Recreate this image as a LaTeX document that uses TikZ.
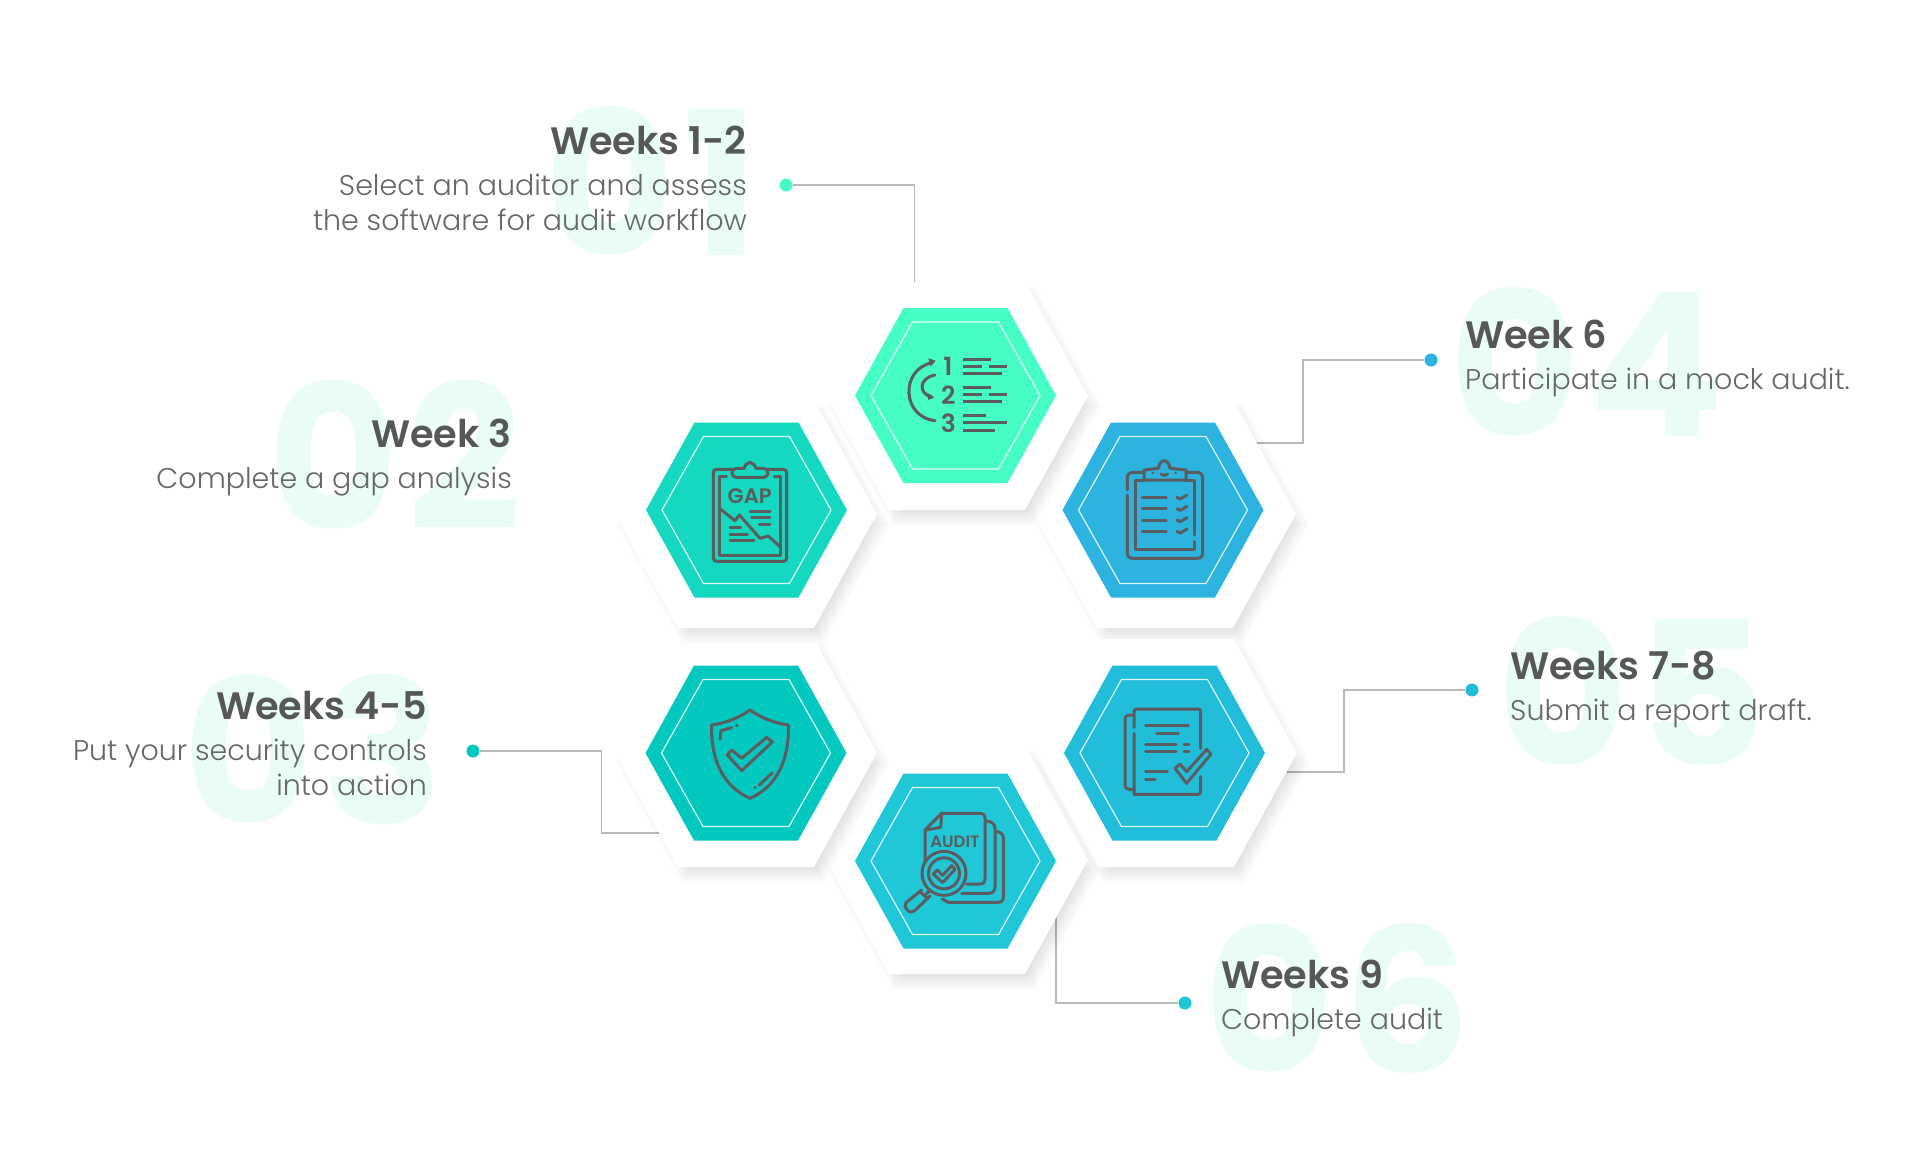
\documentclass[tikz,border=0pt]{standalone}
\usepackage{fontspec}
\setmainfont{Poppins}[BoldFont={Poppins SemiBold}]
\newfontfamily\poplight{Poppins Light}
\newfontfamily\ghostfont{Poppins Bold}[LetterSpace=4.5]
\definecolor{ink}{HTML}{565858}
\definecolor{bodyc}{HTML}{666868}
\definecolor{ghost}{HTML}{EAFCF7}
\definecolor{wire}{HTML}{B8B8B8}
\definecolor{icon}{HTML}{5C5C5E}
\definecolor{cA}{HTML}{46FDC6}
\definecolor{cB}{HTML}{14D8C0}
\definecolor{cC}{HTML}{2CB3DF}
\definecolor{cD}{HTML}{03C8BF}
\definecolor{cE}{HTML}{22BDDB}
\definecolor{cF}{HTML}{1FC7D7}
\newcommand\hexat[5]{({(#1)-(#3)},{#2}) -- ({(#1)-(#5)},{(#2)-(#4)}) -- ({(#1)+(#5)},{(#2)-(#4)}) -- ({(#1)+(#3)},{#2}) -- ({(#1)+(#5)},{(#2)+(#4)}) -- ({(#1)-(#5)},{(#2)+(#4)}) -- cycle}
% white plate with soft shadow: cx cy
\newcommand\plate[2]{%
  \foreach \k in {0,...,13}{
    \fill[black,opacity=0.0105] \hexat{#1+7}{#2+10}{131+6-2*\k}{114+6-1.75*\k}{68+3-\k};
  }
  \fill[white] \hexat{#1}{#2}{131}{114}{68};
}
% coloured hexagon and inner outline: cx cy colour
\newcommand\cell[3]{%
  \fill[#3] \hexat{#1}{#2}{100.5}{87.5}{52};
  \draw[white!85!#3,line width=1.2pt] \hexat{#1}{#2}{84.5}{73.5}{43};
}
\tikzset{
  x=1pt,y=-1pt,
  title/.style={inner sep=0,text=ink,font=\fontsize{38.2}{38.2}\selectfont\bfseries},
  body/.style={inner sep=0,text=bodyc,font=\fontsize{28.5}{28.5}\selectfont\poplight},
  ghostnum/.style={inner sep=0,text=ghost,font=\fontsize{200}{200}\selectfont\ghostfont},
  wireline/.style={draw=wire,line width=1.2pt},
  dotmark/.style={circle,inner sep=0,minimum size=13pt},
  ic/.style={draw=icon,line width=3pt,line cap=round,line join=round},
  iconscale/.style={x=0.33333pt,y=-0.33333pt},
  icontext/.style={inner sep=0,text=icon,font=\fontsize{#1}{#1}\selectfont\bfseries},
}
\begin{document}
\begin{tikzpicture}
\useasboundingbox (0,0) rectangle (1909,1159);
\fill[white] (0,0) rectangle (1909,1159);

% ghost numbers
\node[ghostnum,anchor=base east] (n1) at (759,255) {01};
\node[ghostnum,anchor=base east] (n2) at (522,529) {02};
\node[ghostnum,anchor=base east] (n3) at (444,823) {03};
\node[ghostnum,anchor=base east] (n4) at (1724,436) {04};
\node[ghostnum,anchor=base east] (n5) at (1767,765) {05};
\node[ghostnum,anchor=base east] (n6) at (1471,1072) {06};

% connectors
\node[dotmark,fill=cA] (d1) at (786,185) {};
\node[dotmark,fill=cC] (d3) at (1431,360) {};
\node[dotmark,fill=cE] (d5) at (1472,690) {};
\node[dotmark,fill=cF] (d6) at (1185,1003) {};
\node[dotmark,fill=cD] (d4) at (473,751) {};
\coordinate (a1) at (914.5,185); \coordinate (b1) at (914.5,282);
\coordinate (a3) at (1303,360); \coordinate (b3) at (1303,443); \coordinate (e3) at (1250,443);
\coordinate (a5) at (1344,690); \coordinate (b5) at (1344,772); \coordinate (e5) at (1280,772);
\coordinate (a6) at (1056,1003); \coordinate (b6) at (1056,905);
\coordinate (a4) at (601.5,751); \coordinate (b4) at (601.5,833); \coordinate (e4) at (665,833);
\draw[wireline] (d1) -- (a1) -- (b1);
\draw[wireline] (d3) -- (a3) -- (b3) -- (e3);
\draw[wireline] (d5) -- (a5) -- (b5) -- (e5);
\draw[wireline] (d6) -- (a6) -- (b6);
\draw[wireline] (d4) -- (a4) -- (b4) -- (e4);

% plates
\plate{1165}{514}
\plate{1166}{753}
\plate{957}{860}
\plate{746}{753}
\plate{746}{514}
\plate{957}{396}

% cells
\cell{955.5}{395.5}{cA}
\cell{746.5}{510}{cB}
\cell{1163}{510}{cC}
\cell{746}{753}{cD}
\cell{1164.5}{753}{cE}
\cell{955.5}{861}{cF}

% icon 1
\begin{scope}[shift={(820,270)},iconscale]
\draw[ic] (335,278) .. controls (240,300) and (245,440) .. (345,452);
\draw[ic] (345,315) .. controls (295,325) and (295,370) .. (335,382);
\fill[icon] (325,265) -- (347,272) -- (332,290) -- cycle;
\fill[icon] (322,368) -- (343,382) -- (325,390) -- cycle;
\node[icontext=25] (i1a) at (384,290) {1};
\node[icontext=25] (i1b) at (385,376) {2};
\node[icontext=25] (i1c) at (385,460) {3};
\foreach \p/\q/\r in {430/513/268,430/485/290,507/560/290,430/545/311,430/513/352,430/485/373,507/560/373,430/545/395,430/497/437,430/560/458,430/525/480}
  \draw[ic,line cap=butt] (\p,\r) -- (\q,\r);
\end{scope}

% icon 2 GAP
\begin{scope}[shift={(620,400)},iconscale]
\draw[ic] (338,208) -- (290,208) .. controls (282,208) and (280,212) .. (280,220) -- (280,473) .. controls (280,481) and (284,484) .. (292,484) -- (490,484) .. controls (498,484) and (500,480) .. (500,472) -- (500,220) .. controls (500,212) and (497,208) .. (490,208) -- (442,208);
\draw[ic] (348,205) -- (372,205) .. controls (376,195) and (380,188) .. (390,187) .. controls (400,188) and (404,195) .. (408,205) -- (432,205) .. controls (448,207) and (448,230) .. (432,232) -- (348,232) .. controls (332,230) and (332,207) .. (348,205) -- cycle;
\draw[ic] (320,228) -- (298,228) -- (298,465) -- (481,465) -- (481,432);
\draw[ic] (462,228) -- (482,228) -- (482,428);
\draw[ic] (298,325) -- (345,362) -- (358,345) -- (420,415) -- (445,408) -- (480,440);
\node[icontext=21] (i2a) at (389,288) {GAP};
\foreach \p/\q/\r in {390/450/333,395/450/352,418/450/372,330/362/382,330/382/402,330/402/421}
  \draw[ic] (\p,\r) -- (\q,\r);
\end{scope}

% icon 3 checklist
\begin{scope}[shift={(1030,400)},iconscale]
\draw[ic] (342,217) -- (310,217) .. controls (298,217) and (292,223) .. (292,235) -- (292,270);
\draw[ic] (292,285) -- (292,458) .. controls (292,470) and (298,475) .. (310,475) -- (500,475) .. controls (512,475) and (518,470) .. (518,458) -- (518,235) .. controls (518,223) and (512,217) .. (500,217) -- (468,217);
\draw[ic] (342,240) -- (317,240) -- (317,447) -- (493,447) -- (493,425);
\draw[ic] (468,240) -- (493,240) -- (493,405);
\draw[ic] (342,240) -- (342,210) -- (385,205) .. controls (388,190) and (395,182) .. (402,182) .. controls (410,182) and (418,190) .. (420,205) -- (468,210) -- (468,240) -- cycle;
\draw[ic,line width=2pt] (367,220) -- (370,220) (435,220) -- (438,220);
\draw[ic] (393,222) .. controls (398,228) and (408,228) .. (413,222);
\foreach \r in {292,326,360,394}{
  \draw[ic] (337,\r) -- (408,\r);
  \draw[ic] (441,\r) -- (451,\r+5) -- (471,\r-7);
}
\end{scope}

% icon 4 shield
\begin{scope}[shift={(620,640)},iconscale]
\draw[ic] (390,210) .. controls (350,238) and (310,250) .. (275,255) .. controls (272,360) and (310,440) .. (390,475) .. controls (470,440) and (508,360) .. (505,255) .. controls (470,250) and (430,238) .. (390,210) -- cycle;
\draw[ic] (300,298) -- (303,272) -- (335,263);
\draw[ic] (350,257) -- (351,257);
\draw[ic] (405,443) -- (406,442);
\draw[ic] (417,436) -- (457,398);
\draw[ic] (322,345) -- (335,330) -- (365,355) -- (440,292) -- (457,306) -- (365,392) -- cycle;
\end{scope}

% icon 5 report
\begin{scope}[shift={(1030,640)},iconscale]
\draw[ic] (512,325) -- (512,215) .. controls (512,209) and (510,207) .. (504,207) -- (322,207) .. controls (315,207) and (312,210) .. (312,216) -- (312,262);
\draw[ic] (312,280) -- (312,463) -- (504,463) .. controls (510,463) and (512,461) .. (512,455) -- (512,410);
\draw[ic] (312,225) -- (298,225) .. controls (289,225) and (285,230) .. (285,240) -- (285,433) .. controls (285,443) and (289,448) .. (298,448) -- (312,448);
\foreach \p/\q/\r in {347/475/257,380/445/279,347/438/312,462/477/312,347/438/335,462/477/335,347/412/395,347/375/418}
  \draw[ic] (\p,\r) -- (\q,\r);
\draw[ic] (435,385) -- (450,372) -- (470,395) -- (530,328) -- (543,342) -- (470,430) -- cycle;
\end{scope}

% icon 6 audit
\begin{scope}[shift={(820,750)},iconscale]
\draw[ic] (315,335) -- (315,240) -- (365,190) -- (482,190) .. controls (491,190) and (495,194) .. (495,203) -- (495,385) .. controls (495,396) and (490,402) .. (480,402) -- (440,402);
\draw[ic] (365,190) -- (362,232) -- (318,240);
\draw[ic] (497,213) .. controls (515,213) and (525,222) .. (525,235) -- (525,410) .. controls (525,423) and (518,430) .. (505,430) -- (425,430);
\draw[ic] (527,245) .. controls (543,245) and (550,252) .. (550,265) -- (550,440) .. controls (550,451) and (545,457) .. (534,457) -- (385,457) -- (367,447);
\node[icontext=16.5] (i6a) at (405,276) {AUDIT};
\draw[ic,fill=cF] (372,370) circle[radius=22pt];
\draw[ic] (372,370) circle[radius=15.5pt];
\draw[ic] (340,372) -- (352,360) -- (368,376) -- (395,347) -- (405,358) -- (368,398) -- cycle;
\draw[ic] (330,420) -- (318,433);
\draw[ic] (305,420) -- (258,458) .. controls (252,465) and (255,475) .. (262,480) .. controls (268,488) and (278,488) .. (284,482) -- (330,438);
\draw[ic] (300,425) -- (322,445);
\end{scope}

% texts
\node[title,anchor=base east] (t1) at (747,154) {Weeks 1-2};
\node[body,anchor=base east] (s1a) at (747,195) {Select an auditor and assess};
\node[body,anchor=base east] (s1b) at (747,230) {the software for audit workflow};
\node[title,anchor=base east] (t2) at (512,447) {Week 3};
\node[body,anchor=base east] (s2a) at (512,488) {Complete a gap analysis};
\node[title,anchor=base east] (t3) at (427,719) {Weeks 4-5};
\node[body,anchor=base east] (s3a) at (427,760) {Put your security controls};
\node[body,anchor=base east] (s3b) at (427,795) {into action};
\node[title,anchor=base west] (t4) at (1465,348) {Week 6};
\node[body,anchor=base west] (s4a) at (1465,389) {Participate in a mock audit.};
\node[title,anchor=base west] (t5) at (1510,679) {Weeks 7-8};
\node[body,anchor=base west] (s5a) at (1510,720) {Submit a report draft.};
\node[title,anchor=base west] (t6) at (1221,988) {Weeks 9};
\node[body,anchor=base west] (s6a) at (1221,1029) {Complete audit};
\end{tikzpicture}
\end{document}
